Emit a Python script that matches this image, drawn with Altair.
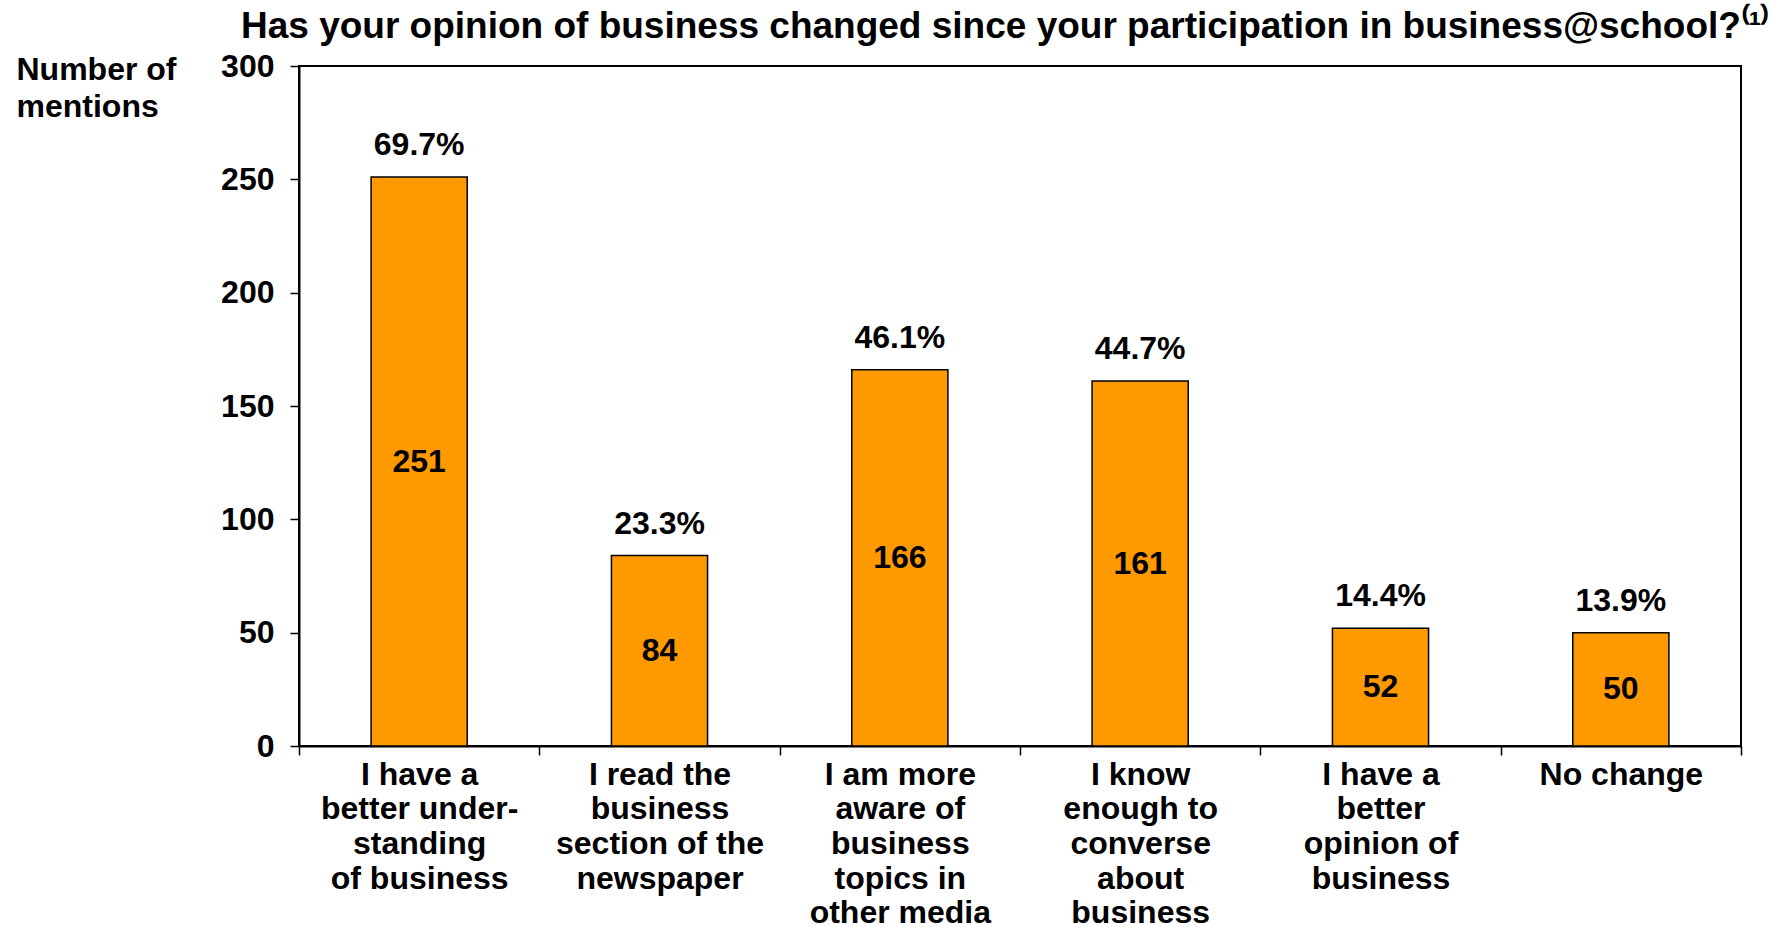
import altair as alt
import pandas as pd

categories = [
    "I have a|better under-|standing|of business",
    "I read the|business|section of the|newspaper",
    "I am more|aware of|business|topics in|other media",
    "I know|enough to|converse|about|business",
    "I have a|better|opinion of|business",
    "No change",
]
mentions = [251, 84, 166, 161, 52, 50]
percents = [69.7, 23.3, 46.1, 44.7, 14.4, 13.9]
y_ticks = [0, 50, 100, 150, 200, 250, 300]

df = pd.DataFrame({
    "category": categories,
    "mentions": mentions,
    "pct": [f"{p:.1f}%" for p in percents],
})

FONT = "Liberation Sans"
ORANGE = "#FF9900"

x_enc = alt.X(
    "category:N", sort=categories, title=None,
    scale=alt.Scale(paddingInner=0, paddingOuter=0),
    axis=alt.Axis(
        labelExpr="split(datum.label, '|')", labelAngle=0, tickBand="extent",
        labelFont=FONT, labelFontSize=32, labelFontWeight="bold", labelColor="black",
        labelLineHeight=34.7, labelPadding=4, labelBaseline="top", labelLimit=400,
        labelOverlap=False, tickSize=9, tickColor="black", tickWidth=1.5,
        domainColor="black", domainWidth=2,
    ),
)

y_enc = alt.Y(
    "mentions:Q",
    scale=alt.Scale(domain=[0, 300], nice=False),
    axis=alt.Axis(
        values=y_ticks, grid=False,
        title=["Number of", "mentions"], titleAngle=0, titleAlign="left",
        titleBaseline="top", titleX=-283, titleY=-12, titleFont=FONT,
        titleFontSize=32, titleFontWeight="bold", titleColor="black", titleLineHeight=37,
        labelFont=FONT, labelFontSize=32, labelFontWeight="bold", labelColor="black",
        labelPadding=16, tickSize=9, tickColor="black", tickWidth=1.5,
        domainColor="black", domainWidth=2,
    ),
)

base = alt.Chart(df)

bars = base.mark_bar(
    width=alt.RelativeBandSize(0.4), color=ORANGE, stroke="black", strokeWidth=1.5
).encode(x=x_enc, y=y_enc)

inside = base.transform_calculate(mid="datum.mentions / 2").mark_text(
    font=FONT, fontSize=32, fontWeight="bold", color="black", baseline="middle"
).encode(x=alt.X("category:N", sort=categories), y=alt.Y("mid:Q"), text="mentions:Q")

above = base.mark_text(
    font=FONT, fontSize=32, fontWeight="bold", color="black", baseline="middle", dy=-32
).encode(x=alt.X("category:N", sort=categories), y=alt.Y("mentions:Q"), text="pct:N")

chart = alt.layer(bars, inside, above).properties(
    width=1442, height=680,
    background="white",
    autosize=alt.AutoSizeParams(type="none"),
    padding={"left": 299, "top": 66, "right": 43, "bottom": 181},
    title=alt.TitleParams(
        text="Has your opinion of business changed since your participation in business@school?\u207d\u00b9\u207e",
        font=FONT, fontSize=37, fontWeight="bold", color="black",
        anchor="start", frame="group", dx=-58, offset=4,
    ),
).configure_view(stroke="black", strokeWidth=2, strokeOpacity=1)

chart.save("out.html", embed_options={"renderer": "svg", "actions": False})
